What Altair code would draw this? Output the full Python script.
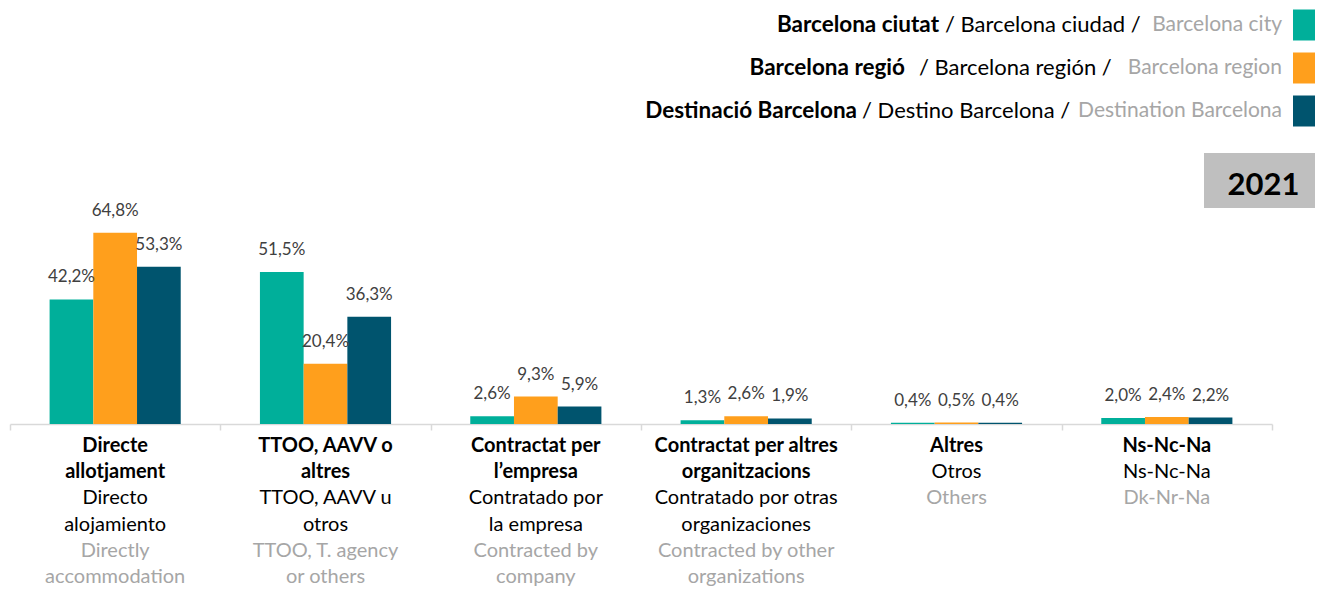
import altair as alt
import pandas as pd

# ---------------- data ----------------
CATEGORIES = [
    "Directe allotjament",
    "TTOO, AAVV o altres",
    "Contractat per l’empresa",
    "Contractat per altres organitzacions",
    "Altres",
    "Ns-Nc-Na",
]
SERIES = ["Barcelona ciutat", "Barcelona regió", "Destinació Barcelona"]
SERIES_ES = ["Barcelona ciudad", "Barcelona región", "Destino Barcelona"]
SERIES_EN = ["Barcelona city", "Barcelona region", "Destination Barcelona"]
COLORS = ["#00AF9A", "#FF9F1C", "#00546E"]

VAL_CIUTAT = [42.2, 51.5, 2.6, 1.3, 0.4, 2.0]
VAL_REGIO = [64.8, 20.4, 9.3, 2.6, 0.5, 2.4]
VAL_DEST = [53.3, 36.3, 5.9, 1.9, 0.4, 2.2]

YEAR = "2021"

LABEL_CA = [
    ["Directe", "allotjament"],
    ["TTOO, AAVV o", "altres"],
    ["Contractat per", "l’empresa"],
    ["Contractat per altres", "organitzacions"],
    ["Altres"],
    ["Ns-Nc-Na"],
]
LABEL_ES = [
    ["Directo", "alojamiento"],
    ["TTOO, AAVV u", "otros"],
    ["Contratado por", "la empresa"],
    ["Contratado por otras", "organizaciones"],
    ["Otros"],
    ["Ns-Nc-Na"],
]
LABEL_EN = [
    ["Directly", "accommodation"],
    ["TTOO, T. agency", "or others"],
    ["Contracted by", "company"],
    ["Contracted by other", "organizations"],
    ["Others"],
    ["Dk-Nr-Na"],
]

# ---------------- tables ----------------
rows = []
for s, vals in zip(SERIES, [VAL_CIUTAT, VAL_REGIO, VAL_DEST]):
    for c, v in zip(CATEGORIES, vals):
        rows.append({"category": c, "series": s, "value": v,
                     "label": f"{v:.1f}".replace(".", ",") + "%"})
bars_df = pd.DataFrame(rows)

line_rows = []
for c, ca, es, en in zip(CATEGORIES, LABEL_CA, LABEL_ES, LABEL_EN):
    i = 0
    for lang, lines in (("ca", ca), ("es", es), ("en", en)):
        for t in lines:
            line_rows.append({"category": c, "lang": lang, "line": i, "text": t})
            i += 1
lines_df = pd.DataFrame(line_rows)

legend_df = pd.DataFrame({
    "row": [0, 1, 2],
    "series": SERIES,
    "ca": SERIES,
    "es": ["/ " + s + " /" for s in SERIES_ES],
    "en": SERIES_EN,
})

# ---------------- layout ----------------
W, H = 1262, 284
YMAX = 96.2
FONT = "Lato"
GRAY = "#a6a6a6"
BOLD_END = [929, 895, 847]   # right edge of the bold legend piece of each row
ES_X = [935, 909, 852]       # left edge of the "/ ... /" piece of each row
EN_END = 1272                # right edge of the English piece

x_enc = alt.X(
    "category:N", sort=CATEGORIES,
    scale=alt.Scale(paddingInner=0, paddingOuter=0),
    axis=alt.Axis(title=None, labels=False, ticks=True, tickBand="extent",
                  tickSize=6, tickColor="#d9d9d9", tickWidth=1.5,
                  domainColor="#d9d9d9", domainWidth=1.5, grid=False),
)
xo = alt.XOffset("series:N", sort=SERIES,
                 scale=alt.Scale(paddingInner=0, paddingOuter=0.906))
y_enc = alt.Y("value:Q", scale=alt.Scale(domain=[0, YMAX], nice=False), axis=None)
color_enc = alt.Color("series:N", sort=SERIES,
                      scale=alt.Scale(domain=SERIES, range=COLORS), legend=None)

bars = alt.Chart(bars_df).mark_bar().encode(
    x=x_enc, xOffset=xo, y=y_enc, color=color_enc)

values = alt.Chart(bars_df).mark_text(
    font=FONT, fontSize=17, color="#404040", baseline="middle", dy=-22
).encode(x=x_enc, xOffset=xo, y=y_enc, text="label:N")

line_y = alt.Y("line:Q", scale=alt.Scale(domain=[0, 5], range=[306, 437], nice=False),
               axis=None)


def cat_layer(lang, weight, color):
    return alt.Chart(lines_df).transform_filter(alt.datum.lang == lang).mark_text(
        font=FONT, fontSize=20, fontWeight=weight, color=color, baseline="middle"
    ).encode(x=alt.X("category:N", sort=CATEGORIES), y=line_y, text="text:N")


cat_layers = [cat_layer("ca", "bold", "#000000"),
              cat_layer("es", "normal", "#000000"),
              cat_layer("en", "normal", GRAY)]

leg_y = alt.Y("row:Q", scale=alt.Scale(domain=[0, 2], range=[-115, -29], nice=False),
              axis=None)
legend_layers = []
for i in range(3):
    one = alt.Chart(legend_df).transform_filter(alt.datum.row == i)
    legend_layers += [
        one.mark_text(font=FONT, fontSize=22.5, fontWeight="bold", color="#000000",
                      align="right", baseline="middle")
        .encode(x=alt.value(BOLD_END[i]), y=leg_y, text="ca:N"),
        one.mark_text(font=FONT, fontSize=22, color="#000000",
                      align="left", baseline="middle")
        .encode(x=alt.value(ES_X[i]), y=leg_y, text="es:N"),
        one.mark_text(font=FONT, fontSize=21, color=GRAY,
                      align="right", baseline="middle")
        .encode(x=alt.value(EN_END), y=leg_y, text="en:N"),
    ]
swatches = alt.Chart(legend_df).mark_tick(
    orient="vertical", thickness=22, size=31, opacity=1
).encode(x=alt.value(1294), y=leg_y, color=color_enc)

year_df = pd.DataFrame({"year": [YEAR]})
year_box = alt.Chart(year_df).mark_rect(color="#bfbfbf").encode(
    x=alt.value(1194), x2=alt.value(1305), y=alt.value(13), y2=alt.value(68))
year_text = alt.Chart(year_df).mark_text(
    font=FONT, fontSize=31, fontWeight="bold", color="#000000",
    align="center", baseline="middle"
).encode(x=alt.value(1253.5), y=alt.value(46), text="year:N")

chart = alt.layer(
    bars, values, *cat_layers, *legend_layers, swatches, year_box, year_text
).resolve_scale(y="independent").properties(
    width=W, height=H,
    padding={"left": 2, "top": 132, "right": 43, "bottom": 166},
    autosize=alt.AutoSizeParams(type="none"),
).configure_view(stroke=None)

chart.save("out.html", embed_options={"renderer": "svg", "actions": False})
